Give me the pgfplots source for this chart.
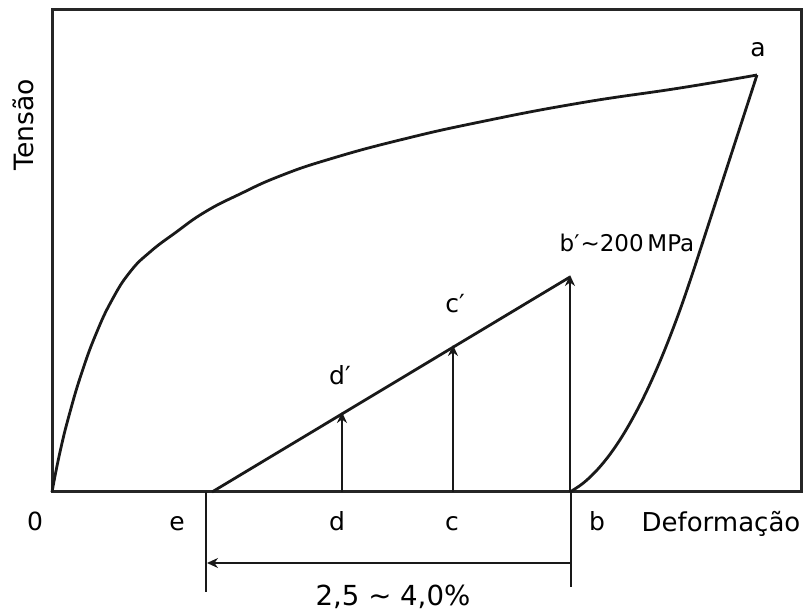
\documentclass[border=0pt]{standalone}
\usepackage{pgfplots}
\pgfplotsset{compat=1.18}
\usepackage{fontspec}
\setmainfont{DejaVu Sans}
\usetikzlibrary{arrows.meta}
\begin{document}
\begin{tikzpicture}
\useasboundingbox (0,0) rectangle (402.5bp,305bp);
\begin{axis}[
  at={(26bp,59bp)}, anchor=south west,
  width=375bp, height=241bp, scale only axis,
  xmin=52, xmax=802, ymin=0, ymax=482,
  xtick=\empty, ytick=\empty,
  axis line style={line width=1.5bp, black!85},
  clip=false,
  every axis plot/.append style={line width=1.4bp, black!90},
]
% loading curve 0 -> a
\addplot[smooth, tension=0.8] coordinates {
 (52,0) (60,40) (70,80) (82,120) (96,158) (112,192) (130,220) (150,240)
 (175,259) (205,280) (240,298) (280,316) (330,333) (400,352) (480,370)
 (580,389) (680,404) (757,417)};
% unloading a -> b
\addplot[] coordinates {(757,417) (695,226)};
\addplot[smooth, tension=0.6] coordinates {
 (570,0) (582.5,8.3) (595,19.8) (607.5,34.4) (620,52.2) (632.5,73.3) (645,97.4)
 (657.5,124.8) (670,155.4) (682.5,189.1) (695,226)};
% reloading line e -> b'
\addplot[] coordinates {(212,0) (570,215)};
% vertical arrows
\addplot[line width=1.2bp, -{Stealth[length=5.5bp,width=5bp]}] coordinates {(342,0) (342,80)};
\addplot[line width=1.2bp, -{Stealth[length=5.5bp,width=5bp]}] coordinates {(453,0) (453,147)};
\addplot[line width=1.2bp, -{Stealth[length=5.5bp,width=5bp]}] coordinates {(570,0) (570,217)};
% dimension
\addplot[line width=1.3bp] coordinates {(206,0) (206,-100)};
\addplot[line width=1.3bp] coordinates {(571,0) (571,-95)};
\addplot[line width=1.1bp, -{Stealth[length=5.5bp,width=5bp]}] coordinates {(571,-71) (207,-71)};
% labels
\node[anchor=base, font=\fontsize{12.5bp}{14bp}\selectfont] at (axis cs:758,435) {a};
\node[anchor=base, font=\fontsize{11.5bp}{14bp}\selectfont, inner sep=0pt] at (axis cs:627,240) {b′\kern0.5pt\char"7E\relax 200\,MPa};
\node[anchor=base, font=\fontsize{12.5bp}{14bp}\selectfont] at (axis cs:455,179) {c′};
\node[anchor=base, font=\fontsize{12.5bp}{14bp}\selectfont] at (axis cs:340,107) {d′};
\node[anchor=base, font=\fontsize{12.5bp}{14bp}\selectfont] at (axis cs:35,-38) {0};
\node[anchor=base, font=\fontsize{12.5bp}{14bp}\selectfont] at (axis cs:177,-38) {e};
\node[anchor=base, font=\fontsize{12.5bp}{14bp}\selectfont] at (axis cs:337,-38) {d};
\node[anchor=base, font=\fontsize{12.5bp}{14bp}\selectfont] at (axis cs:452,-38) {c};
\node[anchor=base, font=\fontsize{12.5bp}{14bp}\selectfont] at (axis cs:597,-38) {b};
\node[anchor=base, font=\fontsize{13bp}{15bp}\selectfont, inner sep=0pt] at (axis cs:721,-39) {Deformação};
\node[anchor=base, rotate=90, font=\fontsize{13.3bp}{15bp}\selectfont, inner sep=0pt] at (axis cs:33,367) {Tensão};
\node[anchor=base, font=\fontsize{13.8bp}{15bp}\selectfont, inner sep=0pt] at (axis cs:393,-113) {2,5 \char"7E\relax{} 4,0\%};
\end{axis}
\end{tikzpicture}
\end{document}
